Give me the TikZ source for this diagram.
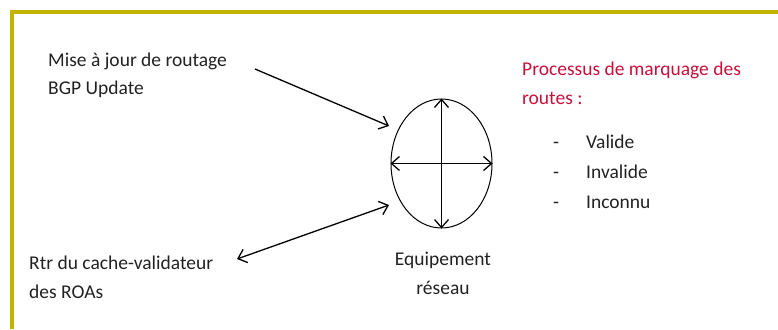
\documentclass[tikz,border=0pt]{standalone}
\usepackage{fontspec}
\setmainfont{Carlito}
\usetikzlibrary{arrows.meta,shapes.geometric}
\definecolor{frameolive}{HTML}{C2B300}
\definecolor{procred}{HTML}{C8103C}
\definecolor{textgray}{HTML}{222222}
\tikzset{
  lbl/.style={inner sep=0pt, anchor=west, text=textgray, font=\fontsize{19.5}{28}\selectfont},
  redlbl/.style={lbl, text=procred},
  conn/.style={line width=1.3pt, -{Straight Barb[length=8pt,width=14pt,line width=1.3pt]}},
  dconn/.style={line width=1.3pt, {Straight Barb[length=8pt,width=14pt,line width=1.3pt]}-{Straight Barb[length=8pt,width=14pt,line width=1.3pt]}},
  frame/.style={draw=frameolive, line width=4.8pt}
}
\begin{document}
\begin{tikzpicture}[x=1pt,y=-1pt]
\fill[white] (0,0) rectangle (778,329);
\useasboundingbox (0,0) rectangle (778,329);
\coordinate (ftl) at (12,12);
\coordinate (ftr) at (778,12);
\coordinate (fbl) at (12,329);
\draw[frame] (ftr) -- ([xshift=-2.4pt]ftl) ;
\draw[frame] ([yshift=-2.4pt]ftl) -- (fbl);

\node[lbl] (mise) at (48,61) {Mise à jour de routage};
\node[lbl] (bgp) at (48,89) {BGP Update};
\node[lbl] (rtr) at (29,263) {Rtr du cache-validateur};
\node[lbl] (roa) at (29,292) {des ROAs};

\node[draw, ellipse, line width=1pt, minimum width=101pt, minimum height=129pt, inner sep=0pt] (eq) at (441.5,163.5) {};
\node[lbl, anchor=center] (equip) at (443,260) {Equipement};
\node[lbl, anchor=center] (res) at (443,288) {réseau};

\node[redlbl] (proc) at (522,70) {Processus de marquage des};
\node[redlbl] (rout) at (522,98) {routes :};
\node[lbl] (d1) at (553,142) {\vphantom{Vd}-};
\node[lbl] (d2) at (553,172) {\vphantom{Vd}-};
\node[lbl] (d3) at (553,202) {\vphantom{Vd}-};
\node[lbl] (val) at (586,142) {Valide};
\node[lbl] (inv) at (586,172) {Invalide};
\node[lbl] (inc) at (586,202) {Inconnu};

\coordinate (a1s) at (255,69);
\coordinate (a1e) at (389,126);
\coordinate (a2s) at (237,259);
\coordinate (a2e) at (389,205);
\draw[conn] (a1s) -- (a1e);
\draw[dconn] (a2s) -- (a2e);
\draw[dconn] (eq.north) -- (eq.south);
\draw[dconn] (eq.west) -- (eq.east);
\end{tikzpicture}
\end{document}
